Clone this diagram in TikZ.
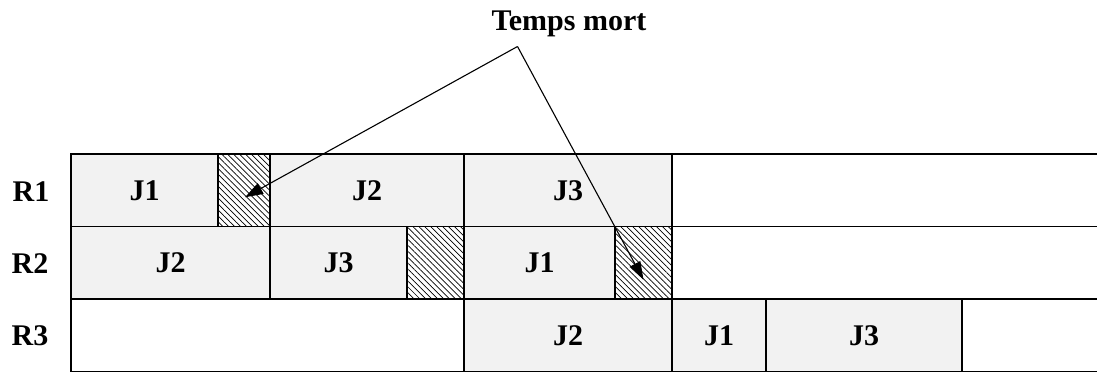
\documentclass[tikz,border=0pt]{standalone}
\usepackage{fontspec}
\setmainfont{Liberation Serif}
\usetikzlibrary{arrows.meta,patterns.meta,calc}
\begin{document}
\begin{tikzpicture}[x=1pt,y=-1pt,
  every node/.style={font=\fontsize{30}{32}\selectfont\bfseries},
  cell/.style={draw=black, line width=1.7pt, fill=black!5, inner sep=0pt, outer sep=0pt, anchor=north west, minimum height=72.5pt},
  blank/.style={cell, fill=white},
  hatch/.style={cell, fill=white, pattern={Lines[angle=-45,distance=4.2pt,line width=0.7pt]}},
  rule/.style={line width=1.7pt},
  rowlabel/.style={anchor=base},
  pointer/.style={line width=1.1pt, -{Triangle[length=18pt,width=12pt]}}]
\useasboundingbox (0,0) rectangle (1097,372);
% row R1
\node[cell, minimum width=147pt] (a1) at (71,154) {J1};
\node[hatch, minimum width=52pt] (h1) at (218,154) {};
\node[cell, minimum width=194pt] (a2) at (270,154) {J2};
\node[cell, minimum width=208pt] (a3) at (464,154) {J3};
% row R2
\node[cell, minimum width=199pt] (b2) at (71,226.5) {J2};
\node[cell, minimum width=137pt] (b3) at (270,226.5) {J3};
\node[hatch, minimum width=57pt] (h2) at (407,226.5) {};
\node[cell, minimum width=151pt] (b1) at (464,226.5) {J1};
\node[hatch, minimum width=57pt] (h3) at (615,226.5) {};
% row R3
\node[blank, minimum width=393pt] (c0) at (71,299) {};
\node[cell, minimum width=208pt] (c2) at (464,299) {J2};
\node[cell, minimum width=94pt] (c1) at (672,299) {J1};
\node[cell, minimum width=196pt] (c3) at (766,299) {J3};
% open-ended horizontal rules
\draw[rule] (a3.north east) -- (1097,154);
\draw[rule] (a3.south east) -- (1097,226.5);
\draw[rule] (h3.south east) -- (1097,299);
\draw[rule] (c3.south east) -- (1097,371.5);
% row labels
\node[rowlabel] (r1) at (31,201) {R1};
\node[rowlabel] (r2) at (30,273) {R2};
\node[rowlabel] (r3) at (30,345) {R3};
% Temps mort
\node[anchor=base] (tm) at (569,30) {Temps mort};
\coordinate (apex) at (517.5,46.5);
\draw[pointer] (apex) -- ($(h1.center)+(1,7)$);
\draw[pointer] (apex) -- ($(h3.center)+(0,17)$);
\end{tikzpicture}
\end{document}
